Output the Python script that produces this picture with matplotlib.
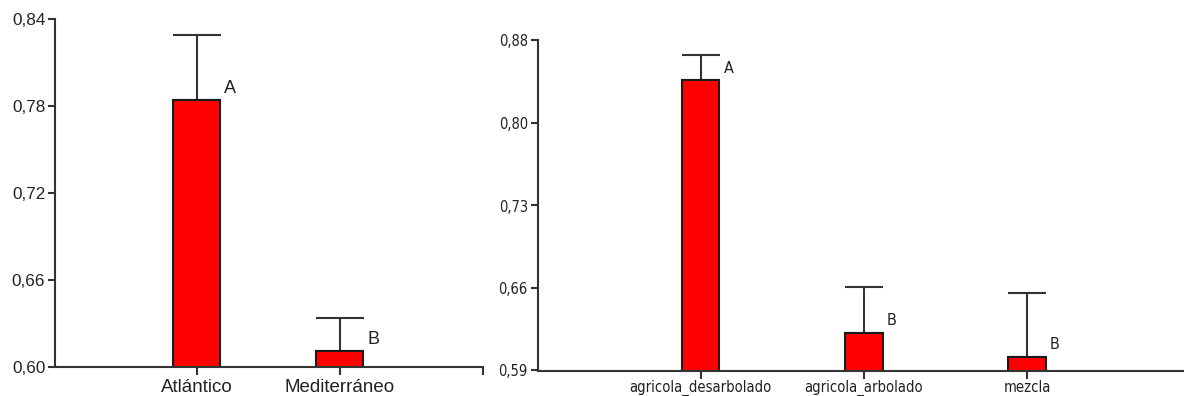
import matplotlib
matplotlib.use("Agg")
import matplotlib.pyplot as plt
from matplotlib import font_manager
import numpy as np

# Region comparison
region_names = ["Atlántico", "Mediterráneo"]
region_means = [0.784, 0.611]
region_err = [0.045, 0.023]
region_letters = ["A", "B"]
region_ticklabels = ["0,60", "0,66", "0,72", "0,78", "0,84"]

# Land-use comparison
use_names = ["agricola_desarbolado", "agricola_arbolado", "mezcla"]
use_means = [0.845, 0.623, 0.602]
use_err = [0.022, 0.040, 0.056]
use_letters = ["A", "B", "B"]
use_ticklabels = ["0,59", "0,66", "0,73", "0,80", "0,88"]

W, H, DPI = 1184, 396, 100
fig = plt.figure(figsize=(W / DPI, H / DPI), dpi=DPI)

TXT = "#222222"
LINE = "#333333"
SANS = ["Liberation Sans", "DejaVu Sans"]

# a condensed face for the right panel, if one is installed
narrow_file = None
for f in font_manager.fontManager.ttflist:
    if "Narrow" in f.name or ("Condensed" in f.fname and "DejaVuSans" in f.fname
                               and "Bold" not in f.fname and "Oblique" not in f.fname):
        if narrow_file is None or "Liberation" in f.name:
            narrow_file = f.fname
if narrow_file is not None:
    NARROW = font_manager.FontProperties(fname=narrow_file)
    narrow_scale = 1.0
else:
    NARROW = font_manager.FontProperties(family=SANS)
    narrow_scale = 0.9


def fx(px):
    return px / W


def fy(py):
    return 1 - py / H


def style_axes(ax):
    for s in ("top", "right"):
        ax.spines[s].set_visible(False)
    for s in ("left", "bottom"):
        ax.spines[s].set_color(LINE)
        ax.spines[s].set_linewidth(1.5)
    ax.set_facecolor("none")


def fp(base, size):
    p = base.copy() if isinstance(base, font_manager.FontProperties) \
        else font_manager.FontProperties(family=base)
    p.set_size(size)
    return p


def draw_panel(ax, names, means, errs, letters, ylo, yhi, ticklabels,
               width, capsize, fam, ysize, xsize, lsize, xend, xpad):
    x = np.arange(1, len(names) + 1)
    ax.bar(x, means, width=width, bottom=0, color="#ff0000",
           edgecolor="#1a1a1a", linewidth=1.5, zorder=2)
    ax.errorbar(x, means, yerr=[np.zeros(len(errs)), errs], fmt="none",
                ecolor=LINE, elinewidth=1.5, capsize=capsize,
                capthick=1.5, zorder=1)
    for xi, m, lab in zip(x, means, letters):
        ax.annotate(lab, xy=(xi + width / 2, m), xytext=(4, 12),
                    textcoords="offset pixels", ha="left", va="center",
                    fontproperties=fp(fam, lsize), color=TXT)
    ax.set_ylim(ylo, yhi)
    ax.set_yticks(np.linspace(ylo, yhi, len(ticklabels)))
    ax.set_yticklabels(ticklabels, fontproperties=fp(fam, ysize), color=TXT)
    ax.set_xlim(xend[0], xend[1])
    ticks = list(x) + [xend[1]]
    ax.set_xticks(ticks)
    ax.set_xticklabels(list(names) + [""], fontproperties=fp(fam, xsize),
                       color=TXT)
    ax.tick_params(axis="y", length=5, width=1.5, color=LINE, pad=2)
    ax.tick_params(axis="x", length=6, width=1.5, color=LINE, pad=xpad)
    style_axes(ax)


# Left panel
ax1 = fig.add_axes([fx(55), fy(367), fx(483 - 55), fy(19) - fy(367)])
draw_panel(ax1, region_names, region_means, region_err, region_letters,
           0.60, 0.84, region_ticklabels, width=0.33, capsize=17,
           fam=SANS, ysize=12.3, xsize=13.5, lsize=13, xend=(0.01, 3), xpad=3)

# Right panel
ax2 = fig.add_axes([fx(537.5), fy(370.5), fx(4 * 163.2), fy(40.5) - fy(370.5)])
draw_panel(ax2, use_names, use_means, use_err, use_letters,
           0.59, 0.88, use_ticklabels, width=0.23, capsize=13.5,
           fam=NARROW, ysize=10.5 * narrow_scale, xsize=10.6 * narrow_scale,
           lsize=11.5 * narrow_scale, xend=(0.0, 4), xpad=1)

fig.savefig("out.png", dpi=DPI)
